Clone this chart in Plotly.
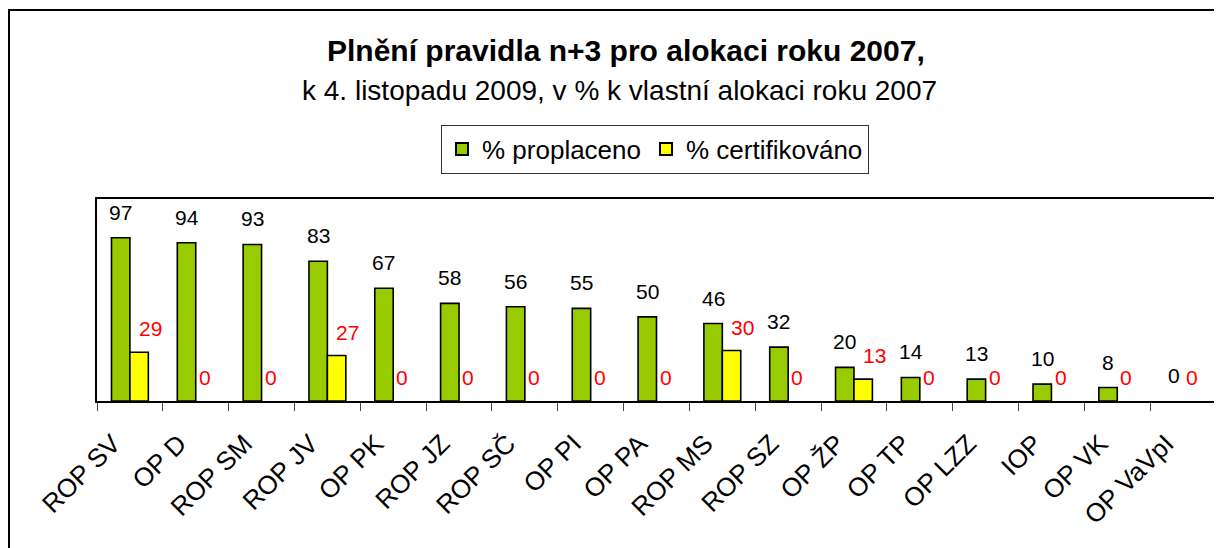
import plotly.graph_objects as go

categories = ["ROP SV", "OP D", "ROP SM", "ROP JV", "OP PK", "ROP JZ", "ROP SČ", "OP PI",
              "OP PA", "ROP MS", "ROP SZ", "OP ŽP", "OP TP", "OP LZZ", "IOP", "OP VK", "OP VaVpI"]
proplaceno = [97, 94, 93, 83, 67, 58, 56, 55, 50, 46, 32, 20, 14, 13, 10, 8, 0]
certifikovano = [29, 0, 0, 27, 0, 0, 0, 0, 0, 30, 0, 13, 0, 0, 0, 0, 0]

# the page body has an 8px default margin; coordinates below are page pixels
OFF = 8
W, H = 1222, 548
PL, PR, PT, PB = 97, 1216, 199, 401          # plot area in page pixels
ML, MT = PL - OFF, PT - OFF
MR = (W + OFF) - PR
MB = (H + OFF) - PB
PW, PH = PR - PL, PB - PT
BARGAP = 0.44
FONT = "Liberation Sans, Arial, sans-serif"
OUTLINE = 1.6

fig = go.Figure()
fig.add_trace(go.Bar(name="% proplaceno", x=categories, y=proplaceno,
                     marker=dict(color="#99CC00",
                                 line=dict(color="black",
                                           width=[OUTLINE if v > 0 else 0 for v in proplaceno]))))
fig.add_trace(go.Bar(name="% certifikováno", x=categories, y=certifikovano,
                     marker=dict(color="#FFFF00",
                                 line=dict(color="black",
                                           width=[OUTLINE if v > 0 else 0 for v in certifikovano]))))

bar_off = PW / len(categories) * (1 - BARGAP) / 4

ann = []
for c, v in zip(categories, proplaceno):
    ann.append(dict(x=c, y=v, xref="x", yref="y", text=str(v), showarrow=False,
                    xshift=-bar_off, yshift=12, yanchor="bottom",
                    font=dict(family=FONT, size=21, color="black")))
for c, v in zip(categories, certifikovano):
    ann.append(dict(x=c, y=v, xref="x", yref="y", text=str(v), showarrow=False,
                    xshift=bar_off + (11 if v > 0 else 0), yshift=10, yanchor="bottom",
                    font=dict(family=FONT, size=21, color="#FF0000")))

def px_to_paper_x(px):
    return (px - PL) / PW

def px_to_paper_y(py):
    return (PB - py) / PH

ann.append(dict(x=px_to_paper_x(626), y=px_to_paper_y(50), xref="paper", yref="paper",
                text="<b>Plnění pravidla n+3 pro alokaci roku 2007,</b>", showarrow=False,
                xanchor="center", yanchor="middle", font=dict(family=FONT, size=30, color="black")))
ann.append(dict(x=px_to_paper_x(619), y=px_to_paper_y(90), xref="paper", yref="paper",
                text="k 4. listopadu 2009, v % k vlastní alokaci roku 2007", showarrow=False,
                xanchor="center", yanchor="middle", font=dict(family=FONT, size=28, color="black")))

fig.update_layout(
    width=W, height=H,
    margin=dict(l=ML, r=MR, t=MT, b=MB),
    paper_bgcolor="white", plot_bgcolor="white",
    barmode="group", bargap=BARGAP, bargroupgap=0,
    showlegend=True,
    legend=dict(orientation="h", x=px_to_paper_x(655), y=px_to_paper_y(149),
                xanchor="center", yanchor="middle",
                bordercolor="#333333", borderwidth=1,
                font=dict(family=FONT, size=26, color="black"),
                itemsizing="constant", itemwidth=30),
    annotations=ann,
    shapes=[dict(type="rect", xref="paper", yref="paper",
                 x0=px_to_paper_x(9), x1=px_to_paper_x(1240),
                 y0=px_to_paper_y(570), y1=px_to_paper_y(10),
                 line=dict(color="black", width=2), fillcolor="rgba(0,0,0,0)")],
    font=dict(family=FONT),
)
fig.update_xaxes(type="category", showline=True, linecolor="black", linewidth=2, mirror=True,
                 ticks="outside", tickson="boundaries", ticklen=8, tickcolor="#444444", tickwidth=1,
                 tickangle=-45, tickfont=dict(family=FONT, size=26, color="black"),
                 ticklabelstandoff=15, ticklabelshift=-17,
                 showgrid=False)
fig.update_yaxes(range=[0, 120], showline=True, linecolor="black", linewidth=2, mirror=True,
                 showticklabels=False, ticks="", showgrid=False, zeroline=False)

fig.write_html("out.html")
